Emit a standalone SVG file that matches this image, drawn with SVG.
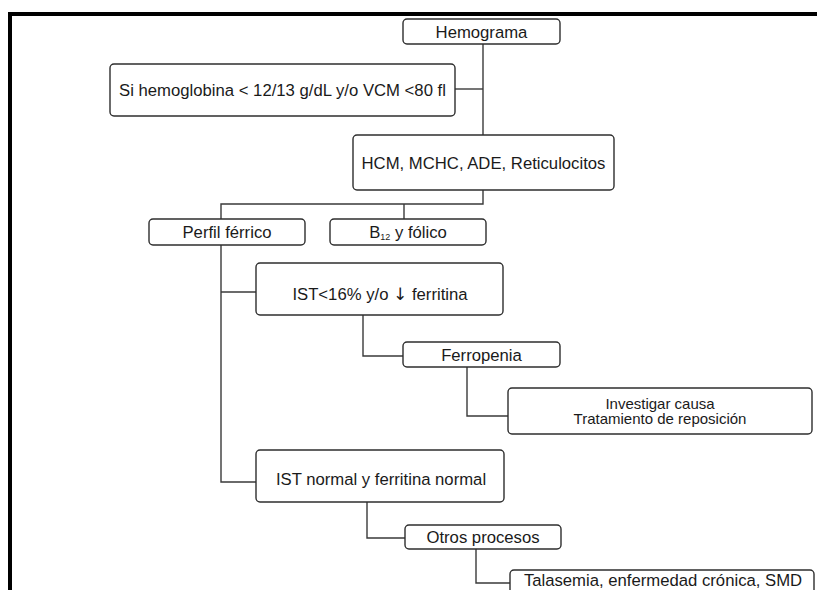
<svg xmlns="http://www.w3.org/2000/svg" width="817" height="590" viewBox="0 0 817 590">
<style>
.box{fill:#fff;stroke:#2e2e2e;stroke-width:1.4}
.c{fill:none;stroke:#3a3a3a;stroke-width:1.4}
text{font-family:"Liberation Sans",Arial,sans-serif;font-size:16.7px;fill:#1a1a1a;text-anchor:middle}
.sm{font-size:15px}
.arr{font-family:"DejaVu Sans",sans-serif;font-size:17px}
</style>
<rect width="817" height="590" fill="#fff"/>
<path d="M10,590 V14 H817" fill="none" stroke="#000" stroke-width="4"/>
<g id="connectors">
<path class="c" d="M483,44 V135"/>
<path class="c" d="M455,89 H483"/>
<path class="c" d="M483,190 V204 H221 V219"/>
<path class="c" d="M404,204 V219"/>
<path class="c" d="M221,245 V482 H256"/>
<path class="c" d="M221,292 H256"/>
<path class="c" d="M363,315 V356 H403"/>
<path class="c" d="M467,367 V416 H508"/>
<path class="c" d="M367,502 V538 H405"/>
<path class="c" d="M476,549 V583 H510"/>
</g>
<g id="hemograma"><rect class="box" x="403" y="19" width="157" height="25" rx="4"/><text x="481.5" y="37.5">Hemograma</text></g>
<g id="si"><rect class="box" x="110" y="64" width="345" height="52" rx="4"/><text x="282.5" y="96">Si hemoglobina &lt; 12/13 g/dL y/o VCM &lt;80 fl</text></g>
<g id="hcm"><rect class="box" x="353" y="135" width="261" height="55" rx="4"/><text x="483.5" y="168.5">HCM, MCHC, ADE, Reticulocitos</text></g>
<g id="perfil"><rect class="box" x="149" y="219" width="156" height="26" rx="4"/><text x="227" y="238">Perfil férrico</text></g>
<g id="b12"><rect class="box" x="330" y="219" width="156" height="26" rx="4"/><text x="408" y="238">B<tspan font-size="9px" dy="2">12</tspan><tspan dy="-2"> y fólico</tspan></text></g>
<g id="ist16"><rect class="box" x="256" y="263" width="247" height="52" rx="4"/><text x="380" y="300">IST&lt;16% y/o <tspan class="arr">↓</tspan> ferritina</text></g>
<g id="ferropenia"><rect class="box" x="403" y="342" width="157" height="25" rx="4"/><text x="481.5" y="360.5">Ferropenia</text></g>
<g id="investigar"><rect class="box" x="508" y="388" width="304" height="46" rx="4"/><text class="sm" x="660" y="408.5">Investigar causa<tspan x="660" dy="15.5">Tratamiento de reposición</tspan></text></g>
<g id="istnormal"><rect class="box" x="256" y="450" width="248" height="52" rx="4"/><text x="381" y="485">IST normal y ferritina normal</text></g>
<g id="otros"><rect class="box" x="405" y="525" width="156" height="24" rx="4"/><text x="483" y="543">Otros procesos</text></g>
<g id="talasemia"><rect class="box" x="510" y="570" width="304" height="30" rx="4"/><text x="663" y="586">Talasemia, enfermedad crónica, SMD</text></g>
</svg>
